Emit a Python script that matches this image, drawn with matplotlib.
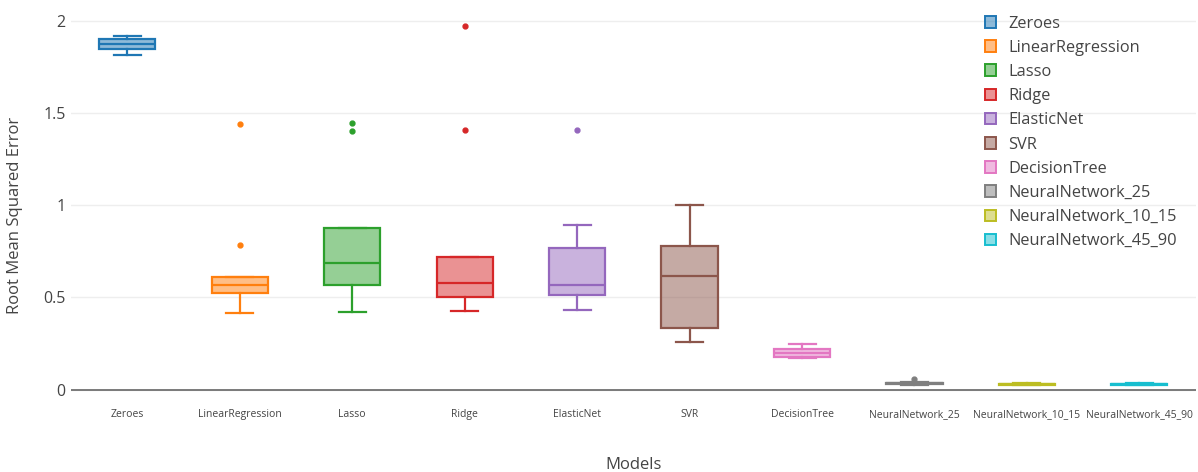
import matplotlib.pyplot as plt
from matplotlib.patches import Patch
from matplotlib.colors import to_rgba

# model names, in the order they are drawn
models = ['Zeroes', 'LinearRegression', 'Lasso', 'Ridge', 'ElasticNet', 'SVR',
          'DecisionTree', 'NeuralNetwork_25', 'NeuralNetwork_10_15', 'NeuralNetwork_45_90']

# box statistics
whisker_low = [1.816, 0.417, 0.423, 0.428, 0.434, 0.260, 0.173, 0.026, 0.024, 0.023]
q1 = [1.848, 0.526, 0.569, 0.504, 0.515, 0.336, 0.179, 0.030, 0.027, 0.026]
medians = [1.875, 0.569, 0.688, 0.580, 0.569, 0.618, 0.200, 0.033, 0.029, 0.028]
q3 = [1.902, 0.612, 0.878, 0.721, 0.770, 0.781, 0.222, 0.036, 0.032, 0.030]
whisker_high = [1.919, 0.612, 0.878, 0.721, 0.894, 1.003, 0.245, 0.040, 0.034, 0.033]
outliers = [[], [1.442, 0.786], [1.447, 1.404], [1.973, 1.409], [1.409], [], [], [0.055], [], []]

colors = ['#1f77b4', '#ff7f0e', '#2ca02c', '#d62728', '#9467bd',
          '#8c564b', '#e377c2', '#7f7f7f', '#bcbd22', '#17becf']

plt.rcParams['font.family'] = ['Open Sans', 'DejaVu Sans']
text_color = '#444444'

fig = plt.figure(figsize=(11.98, 4.72), dpi=100)
ax = fig.add_axes([0.0593, 0.159, 0.9387, 0.820])

for i, name in enumerate(models):
    stats = [{
        'label': name,
        'whislo': whisker_low[i],
        'q1': q1[i],
        'med': medians[i],
        'q3': q3[i],
        'whishi': whisker_high[i],
        'fliers': outliers[i],
    }]
    c = colors[i]
    ax.bxp(stats, positions=[i], widths=0.5, patch_artist=True, showfliers=True,
           boxprops=dict(facecolor=to_rgba(c, 0.5), edgecolor=c, linewidth=1.6),
           medianprops=dict(color=c, linewidth=1.6),
           whiskerprops=dict(color=c, linewidth=1.6),
           capprops=dict(color=c, linewidth=1.6),
           capwidths=0.24,
           flierprops=dict(marker='o', markersize=3.5, markerfacecolor=c,
                           markeredgecolor=c, linestyle='none'),
           zorder=3)

ax.set_xlim(-0.5, len(models) - 0.5)
ax.set_ylim(-0.04, 2.06)
ax.set_yticks([0, 0.5, 1, 1.5, 2])
ax.set_yticklabels(['0', '0.5', '1', '1.5', '2'])
ax.set_xticks(range(len(models)))
ax.set_xticklabels(models, fontsize=7.5, color=text_color)
ax.tick_params(axis='y', labelsize=11.5, labelcolor=text_color, length=0, pad=4)
ax.tick_params(axis='x', length=0, pad=9)

ax.grid(axis='y', color='#eeeeee', linewidth=1, zorder=0)
ax.axhline(0, color='#666666', linewidth=1.2, zorder=2)
for s in ax.spines.values():
    s.set_visible(False)

ax.set_ylabel('Root Mean Squared Error', fontsize=12, color=text_color)
ax.yaxis.set_label_coords(-0.043, 0.47)
ax.set_xlabel('Models', fontsize=12, color=text_color, labelpad=26)

handles = [Patch(facecolor=to_rgba(c, 0.5), edgecolor=c, linewidth=1.4, label=m)
           for c, m in zip(colors, models)]
leg = fig.legend(handles=handles, loc='upper left', bbox_to_anchor=(978 / 1198, 1 - 9 / 472),
                 frameon=False, fontsize=11.8, handlelength=0.7, handleheight=0.7,
                 handletextpad=0.75, labelspacing=0.5, borderaxespad=0)
for t in leg.get_texts():
    t.set_color(text_color)

fig.savefig('out.png', dpi=100, facecolor='white')
